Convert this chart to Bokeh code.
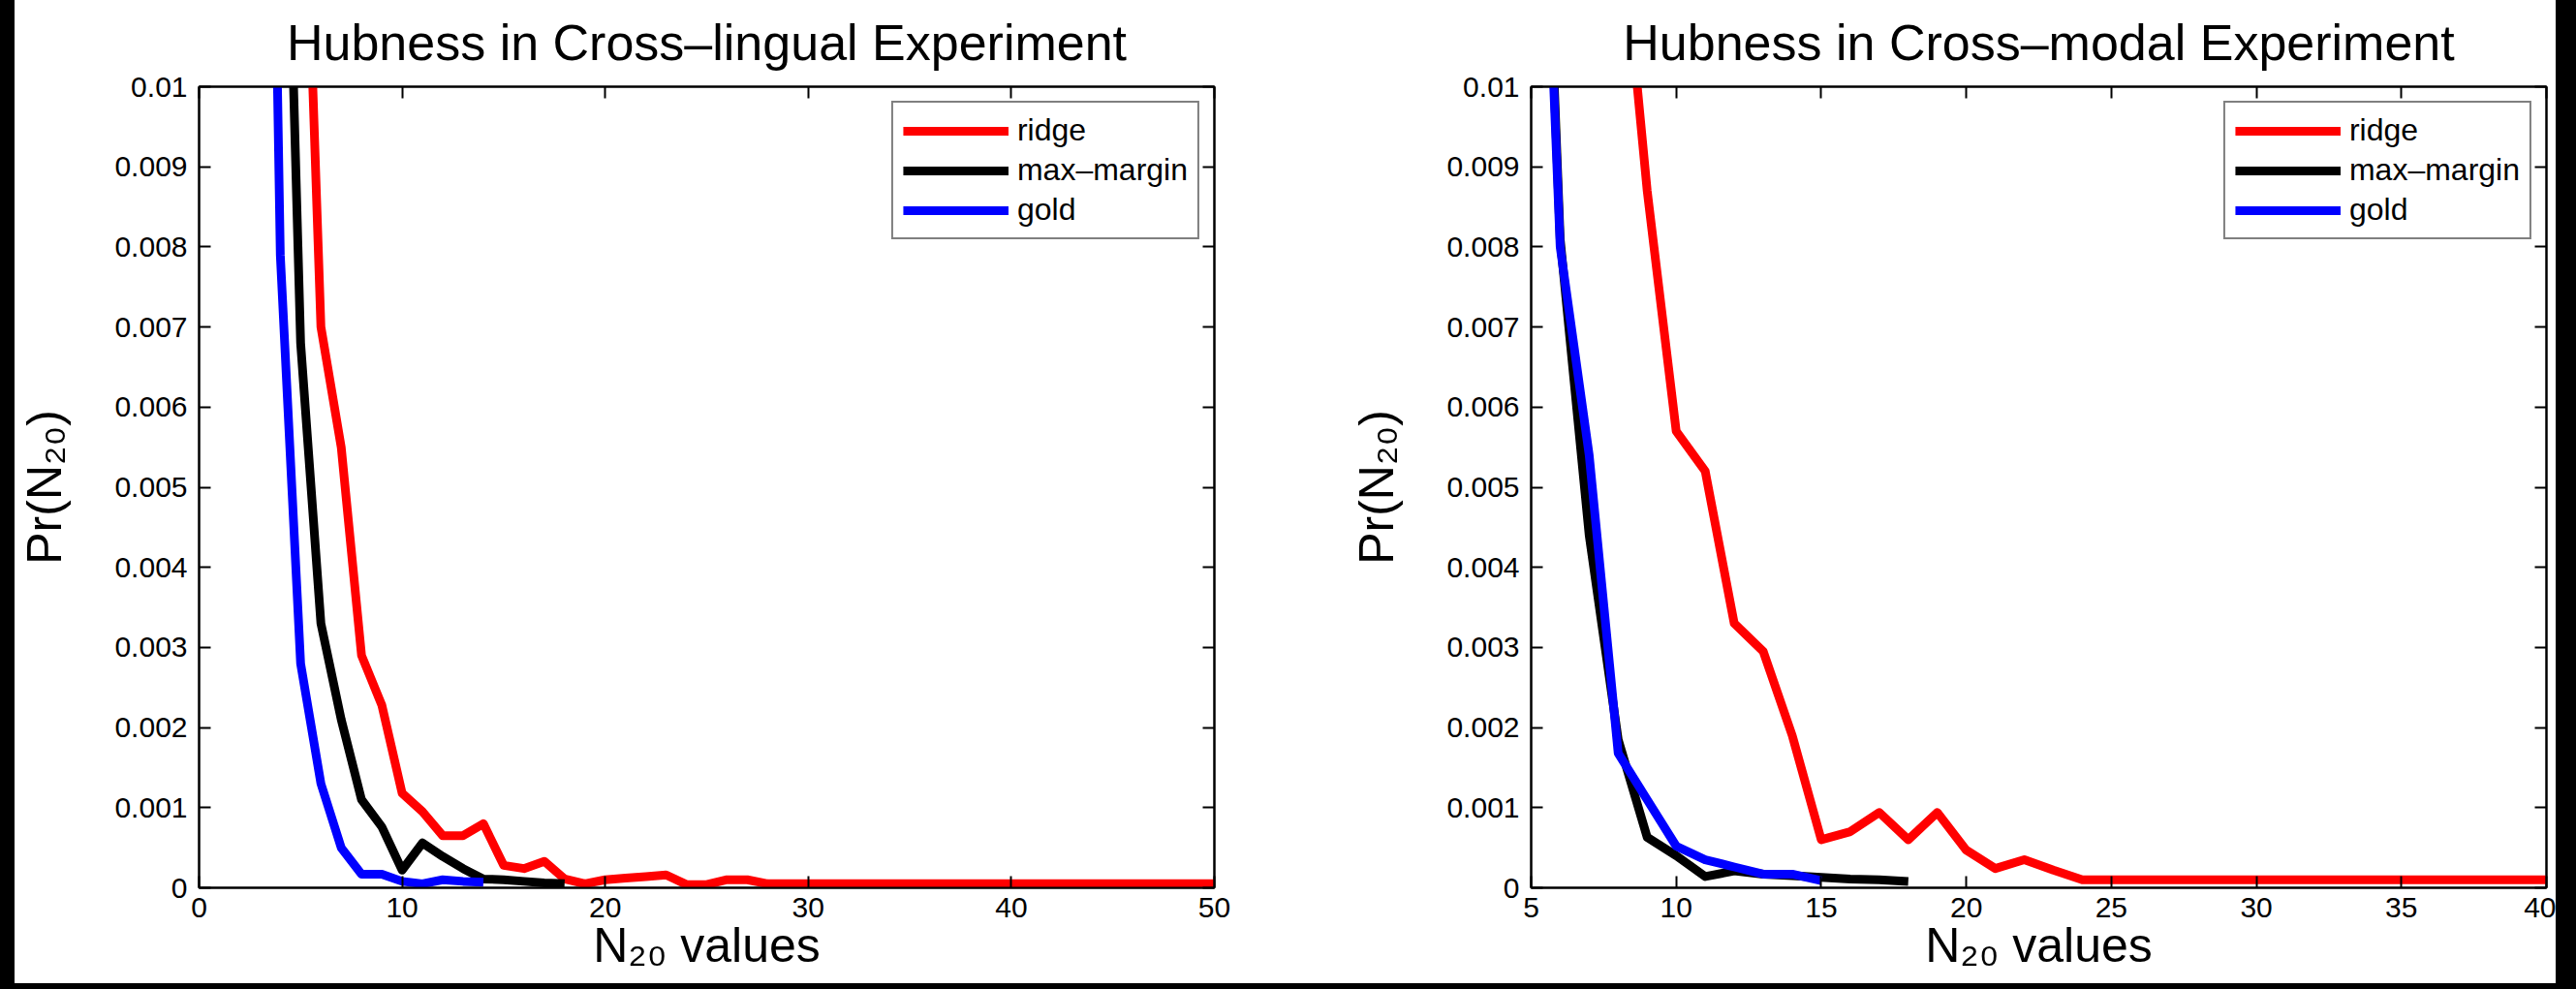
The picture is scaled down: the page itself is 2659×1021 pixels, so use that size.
from bokeh.plotting import figure
from bokeh.models import Range1d, FixedTicker, LinearAxis
from bokeh.layouts import row
from bokeh.embed import file_html
from bokeh.resources import INLINE

# ---------------- data ----------------
series_names = ["ridge", "max–margin", "gold"]
series_colors = ["#ff0000", "#000000", "#0000ff"]

# Cross-lingual experiment
cl_ridge_x = list(range(5, 51))
cl_ridge_y = [0.0145, 0.0070, 0.0055, 0.0029, 0.00228, 0.00118, 0.00095, 0.00065,
              0.00065, 0.0008, 0.00028, 0.00024, 0.00033, 0.00011, 0.00005, 0.0001,
              0.00012, 0.00014, 0.00016, 0.00004, 0.00004, 0.0001, 0.0001, 0.00005,
              0.00005, 0.00005, 0.00005, 0.00005, 0.00005, 0.00005, 0.00005, 0.00005,
              0.00005, 0.00005, 0.00005, 0.00005, 0.00005, 0.00005, 0.00005, 0.00005,
              0.00005, 0.00005, 0.00005, 0.00005, 0.00005, 0.00005]
cl_mm_x = list(range(4, 19))
cl_mm_y = [0.016, 0.0068, 0.0033, 0.0021, 0.0011, 0.00076, 0.00022, 0.00056,
           0.00039, 0.00024, 0.00011, 0.0001, 0.00008, 0.00006, 0.00005]
cl_gold_x = list(range(3, 15))
cl_gold_y = [0.023, 0.0079, 0.0028, 0.0013, 0.0005, 0.00017, 0.00017, 0.00008,
             0.00005, 0.0001, 0.00008, 0.00007]

# Cross-modal experiment
cm_ridge_x = list(range(8, 41))
cm_ridge_y = [0.0125, 0.0087, 0.0057, 0.0052, 0.0033, 0.00295, 0.0019, 0.0006,
              0.0007, 0.00094, 0.0006, 0.00094, 0.00047, 0.00024, 0.00035, 0.00022,
              0.0001, 0.0001, 0.0001, 0.0001, 0.0001, 0.0001, 0.0001, 0.0001,
              0.0001, 0.0001, 0.0001, 0.0001, 0.0001, 0.0001, 0.0001, 0.0001, 0.0001]
cm_mm_x = list(range(5, 19))
cm_mm_y = [0.0175, 0.0081, 0.0044, 0.00185, 0.00063, 0.0004, 0.00014, 0.00021,
           0.00017, 0.00015, 0.00013, 0.00011, 0.0001, 0.00008]
cm_gold_x = list(range(5, 16))
cm_gold_y = [0.017, 0.0080, 0.0054, 0.00168, 0.0011, 0.00052, 0.00035, 0.00026,
             0.00017, 0.00017, 0.00009]

y_ticks = [0, 0.001, 0.002, 0.003, 0.004, 0.005, 0.006, 0.007, 0.008, 0.009, 0.01]
y_tick_labels = ["0", "0.001", "0.002", "0.003", "0.004", "0.005", "0.006",
                 "0.007", "0.008", "0.009", "0.01"]
cl_x_ticks = [0, 10, 20, 30, 40, 50]
cm_x_ticks = [5, 10, 15, 20, 25, 30, 35, 40]

FONT = "Liberation Sans"


def style_axis(ax):
    ax.major_tick_in = 12
    ax.major_tick_out = 0
    ax.minor_tick_in = 12
    ax.minor_tick_out = 0
    ax.major_tick_line_width = 2
    ax.minor_tick_line_width = 2
    ax.major_tick_line_color = "black"
    ax.minor_tick_line_color = "black"
    ax.axis_line_width = 2
    ax.axis_line_color = "black"
    ax.major_label_text_font = FONT
    ax.major_label_text_font_size = "30px"
    ax.major_label_text_color = "black"
    ax.axis_label_text_font = FONT
    ax.axis_label_text_font_size = "50px"
    ax.axis_label_text_font_style = "normal"
    ax.axis_label_text_color = "black"


def make_plot(title, xr, xticks, series, bl, br):
    p = figure(frame_width=1048, frame_height=827,
               x_range=Range1d(*xr), y_range=Range1d(0, 0.01),
               output_backend="svg", toolbar_location=None,
               min_border_left=bl, min_border_right=br,
               min_border_top=95, min_border_bottom=100,
               background_fill_color="white", border_fill_color="white",
               outline_line_color="black", outline_line_width=2,
               title=title)
    p.title.text_font = FONT
    p.title.text_font_size = "52px"
    p.title.text_font_style = "normal"
    p.title.align = "center"
    p.title.text_color = "black"
    p.title.standoff = 34

    # mirrored tick marks on top and right (minor ticks only, so no labels)
    top = LinearAxis(ticker=FixedTicker(ticks=[], minor_ticks=xticks))
    right = LinearAxis(ticker=FixedTicker(ticks=[], minor_ticks=y_ticks))
    style_axis(top)
    style_axis(right)
    top.major_label_standoff = 0
    right.major_label_standoff = 0
    p.add_layout(top, "above")
    p.add_layout(right, "right")

    xa = p.below[0]
    ya = p.left[0]
    xa.ticker = FixedTicker(ticks=xticks)
    ya.ticker = FixedTicker(ticks=y_ticks)
    ya.major_label_overrides = {t: s for t, s in zip(y_ticks, y_tick_labels)}
    style_axis(xa)
    style_axis(ya)
    xa.minor_tick_in = 0
    ya.minor_tick_in = 0

    xa.axis_label = "N₂₀ values"
    xa.major_label_standoff = 10
    xa.axis_label_standoff = -2
    ya.axis_label = "Pr(N₂₀)"
    ya.major_label_standoff = 12
    ya.axis_label_standoff = 41

    p.xgrid.visible = False
    p.ygrid.visible = False

    for (xs, ys), name, col in zip(series, series_names, series_colors):
        p.line(xs, ys, line_color=col, line_width=9, line_join="round",
               legend_label=name)

    lg = p.legend[0]
    lg.location = "top_right"
    lg.margin = 15
    lg.padding = 10
    lg.spacing = 4
    lg.glyph_width = 109
    lg.glyph_height = 36
    lg.label_height = 36
    lg.label_standoff = 9
    lg.label_text_font = FONT
    lg.label_text_font_size = "32px"
    lg.label_text_color = "black"
    lg.border_line_color = "black"
    lg.border_line_width = 2
    lg.background_fill_color = "white"
    lg.background_fill_alpha = 1.0
    return p


p1 = make_plot("Hubness in Cross–lingual Experiment", (0, 50), cl_x_ticks,
               [(cl_ridge_x, cl_ridge_y), (cl_mm_x, cl_mm_y), (cl_gold_x, cl_gold_y)],
               189, 48)
p2 = make_plot("Hubness in Cross–modal Experiment", (5, 40), cm_x_ticks,
               [(cm_ridge_x, cm_ridge_y), (cm_mm_x, cm_mm_y), (cm_gold_x, cm_gold_y)],
               279, 10)

layout = row(p1, p2, styles={"background-color": "white"})
html = file_html(layout, INLINE)
html = html.replace(
    "</head>",
    "<style>html,body{background:#000000;overflow:hidden;} "
    "body{padding:0 0 0 15px;margin-top:-6px;}</style></head>", 1)
open("out.html", "w").write(html)
